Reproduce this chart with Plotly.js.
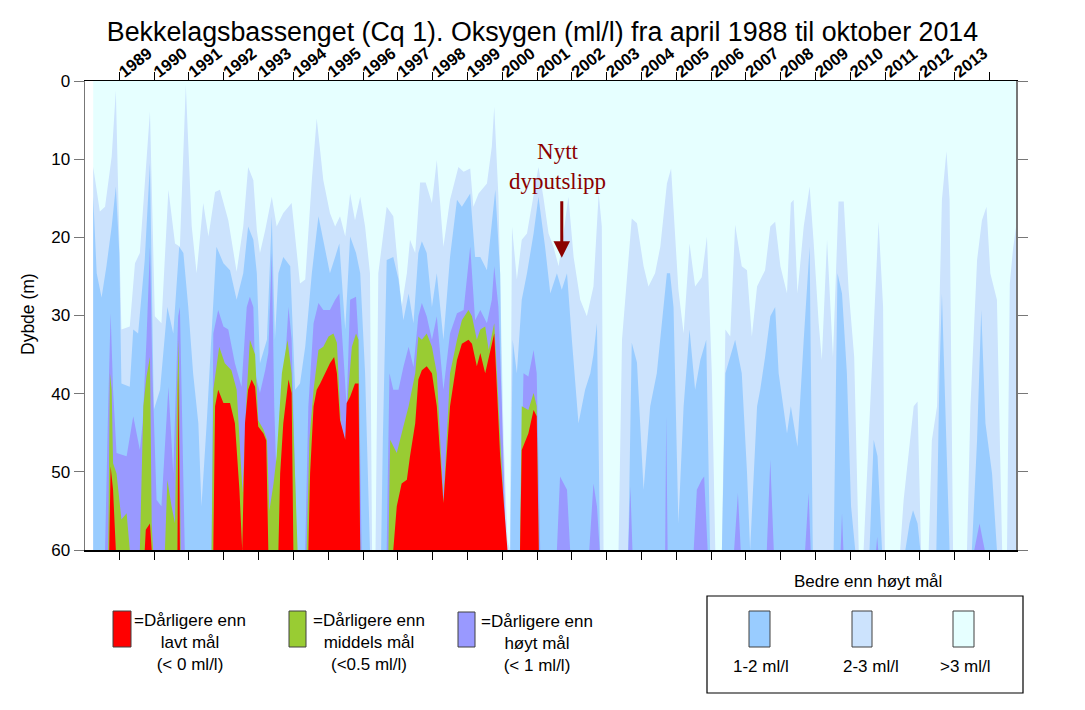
<!DOCTYPE html>
<html><head><meta charset="utf-8">
<script src="https://cdn.plot.ly/plotly-3.0.1.min.js"></script>
<style>html,body{margin:0;padding:0;background:#fff}#chart{width:1085px;height:710px}</style>
</head><body><div id="chart"></div>
<script>
// ---- DATA: boundary depth (m) of each oxygen level over time (decimal year) ----
// depth where O2 drops below 3 ml/l
const time3 = [1988.25,1988.44,1988.59,1988.78,1988.90,1989.06,1989.30,1989.45,1989.59,1989.73,
1989.88,1990.02,1990.21,1990.41,1990.60,1990.74,1990.91,1991.08,1991.22,1991.41,
1991.56,1991.75,1991.89,1992.13,1992.37,1992.56,1992.70,1992.85,1992.95,1993.04,
1993.19,1993.38,1993.52,1993.71,1993.95,1994.19,1994.34,1994.53,1994.67,1994.86,
1995.05,1995.20,1995.34,1995.49,1995.63,1995.77,1995.92,1996.06,1996.20,1996.26,
1996.36,1996.44,1996.68,1996.87,1997.11,1997.26,1997.35,1997.50,1997.64,1997.80,
1997.98,1998.12,1998.31,1998.50,1998.74,1998.89,1999.08,1999.17,1999.32,1999.56,
1999.70,1999.77,1999.89,2000.04,2000.15,2000.22,2000.28,2000.42,2000.56,2000.71,
2000.90,2001.04,2001.18,2001.33,2001.47,2001.62,2001.76,2001.90,2002.05,2002.24,
2002.43,2002.62,2002.77,2002.86,2002.91,2003.34,2003.44,2003.72,2003.87,2004.06,
2004.20,2004.39,2004.54,2004.73,2004.85,2004.92,2005.06,2005.21,2005.38,2005.54,
2005.73,2005.88,2006.02,2006.12,2006.31,2006.41,2006.55,2006.69,2006.88,2007.03,
2007.17,2007.32,2007.45,2007.55,2007.70,2007.84,2007.99,2008.18,2008.29,2008.37,
2008.48,2008.66,2008.83,2008.94,2009.09,2009.18,2009.33,2009.50,2009.66,2009.81,
2009.95,2010.11,2010.24,2010.38,2010.48,2010.67,2010.81,2010.94,2010.99,2011.43,
2011.53,2011.82,2011.93,2012.03,2012.25,2012.34,2012.49,2012.63,2012.76,2012.85,
2012.95,2013.35,2013.45,2013.64,2013.78,2013.91,2014.02,2014.21,2014.36,2014.50,
2014.58,2014.67,2014.76];
const depth3 = [11.0,16.7,16.1,9.7,1.2,31.8,31.4,23.3,22.0,13.1,
3.9,30.1,31.0,13.9,20.8,21.2,0.5,18.6,24.6,15.6,
19.9,14.2,13.9,17.8,24.4,18.6,11.0,12.7,19.1,22.0,
19.1,14.8,18.6,16.9,15.6,25.9,25.4,12.7,4.8,12.7,
16.9,18.6,17.3,19.9,14.4,17.8,14.8,18.6,24.6,60,
60,24.6,16.1,17.3,28.9,24.6,20.3,22.0,13.0,13.0,
15.6,10.1,21.2,15.2,11.0,11.6,11.2,16.1,14.4,13.1,
8.4,3.3,14.8,45.9,58.7,60,18.6,25.4,20.3,19.5,
14.8,11.0,14.8,19.5,21.2,23.7,19.5,14.8,22.5,28.0,
30.1,26.3,14.4,18.6,60,60,33.1,17.6,18.2,23.7,
26.3,24.6,21.2,13.1,11.2,16.1,26.7,32.3,20.8,26.3,
25.1,19.9,37.4,60,60,31.8,32.7,18.4,23.7,24.2,
32.7,26.3,25.0,24.2,18.6,18.0,23.7,27.2,15.6,15.2,
27.2,18.6,13.5,20.3,31.0,35.7,20.3,35.3,15.4,15.4,
26.7,35.3,60,60,50.2,31.0,18.0,28.9,60,60,
53.6,41.6,41.0,60,60,46.0,41.6,15.2,9.0,15.2,
60,60,41.6,22.9,17.8,16.1,24.6,28.0,60,60,
25.9,21.6,18.6];

// depth where O2 drops below 2 ml/l
const time2 = [1988.25,1988.35,1988.49,1988.63,1988.78,1988.90,1989.00,1989.06,1989.30,1989.40,
1989.54,1989.73,1989.88,1989.99,1990.17,1990.38,1990.55,1990.72,1990.84,1990.98,
1991.12,1991.27,1991.36,1991.51,1991.65,1991.79,1991.99,1992.18,1992.37,1992.56,
1992.70,1992.85,1992.95,1993.04,1993.24,1993.38,1993.47,1993.57,1993.71,1993.91,
1994.05,1994.19,1994.34,1994.53,1994.72,1994.86,1995.05,1995.20,1995.32,1995.49,
1995.63,1995.80,1995.92,1996.06,1996.16,1996.20,1996.52,1996.57,1996.68,1996.87,
1997.02,1997.16,1997.31,1997.45,1997.59,1997.69,1997.83,1997.98,1998.12,1998.31,
1998.50,1998.70,1998.84,1999.08,1999.22,1999.37,1999.56,1999.70,1999.80,1999.94,
2000.04,2000.23,2000.30,2000.42,2000.56,2000.71,2000.90,2001.04,2001.23,2001.38,
2001.57,2001.71,2001.86,2002.00,2002.19,2002.38,2002.53,2002.62,2002.72,2002.81,
2003.62,2003.72,2003.87,2004.06,2004.25,2004.44,2004.73,2004.82,2004.92,2005.06,
2005.21,2005.38,2005.54,2005.69,2005.86,2005.97,2006.31,2006.41,2006.69,2006.88,
2007.03,2007.12,2007.17,2007.32,2007.41,2007.55,2007.70,2007.84,2007.94,2008.08,
2008.18,2008.29,2008.48,2008.66,2008.83,2008.92,2009.52,2009.63,2009.76,2009.90,
2010.02,2010.14,2010.55,2010.67,2010.78,2010.91,2011.58,2011.70,2011.80,2011.93,
2012.01,2012.47,2012.56,2012.63,2012.73,2012.85,2013.49,2013.64,2013.76,2013.88,
2014.07,2014.21,2014.76];
const depth2 = [14.8,24.6,27.7,23.7,18.6,13.5,22.0,38.7,39.1,31.8,
32.3,22.9,10.5,42.1,39.5,28.9,32.3,21.2,22.0,28.9,
37.4,43.8,54.4,43.8,32.3,21.2,23.3,24.2,28.0,24.6,
18.6,20.3,24.6,36.1,33.1,17.3,33.1,24.6,22.5,23.7,
39.5,38.7,34.0,24.6,17.3,20.3,24.6,22.5,20.8,31.8,
19.9,22.0,24.6,37.4,54.4,60,60,45.9,22.9,22.5,
25.4,30.6,27.2,31.0,22.0,20.5,22.0,28.9,24.6,33.1,
22.5,15.2,16.1,14.4,22.5,22.5,24.2,18.6,13.9,24.6,
60,60,33.1,37.4,28.0,24.6,19.5,14.8,21.2,27.2,
24.6,26.7,24.6,33.1,43.8,39.5,37.4,35.0,31.0,60,
60,33.5,36.0,52.3,41.6,37.4,24.6,24.6,28.9,56.6,
41.6,31.8,39.5,35.7,33.1,60,60,37.4,33.1,37.4,
50.0,60,55.0,41.6,39.5,35.3,30.1,28.9,37.4,41.6,
45.1,41.6,46.8,33.1,21.2,60,60,24.6,27.2,37.4,
54.4,60,60,45.9,48.0,60,60,56.6,54.9,56.6,
60,60,37.4,27.2,41.6,60,60,45.9,29.3,43.8,
50.2,60,60];

// depth where O2 drops below 1 ml/l
const time1 = [1988.25,1988.59,1988.68,1988.75,1988.82,1988.92,1989.21,1989.40,1989.59,1989.67,
1989.78,1989.88,1989.95,1990.07,1990.21,1990.41,1990.55,1990.69,1990.74,1990.79,
1990.88,1991.65,1991.70,1991.84,1991.99,1992.13,1992.32,1992.51,1992.66,1992.75,
1992.85,1992.90,1993.04,1993.19,1993.28,1993.38,1993.45,1993.52,1993.62,1993.76,
1993.86,1993.95,1994.00,1994.10,1994.34,1994.43,1994.58,1994.72,1994.86,1995.05,
1995.20,1995.32,1995.44,1995.53,1995.63,1995.80,1995.87,1995.96,1996.68,1996.76,
1996.87,1997.02,1997.16,1997.31,1997.45,1997.59,1997.69,1997.83,1997.98,1998.12,
1998.31,1998.50,1998.70,1998.89,1999.08,1999.22,1999.37,1999.56,1999.70,1999.77,
1999.89,1999.99,2000.11,2000.51,2000.61,2000.75,2000.90,2000.99,2001.09,2001.57,
2001.66,2001.86,2001.95,2002.50,2002.62,2002.72,2002.80,2003.62,2003.68,2003.74,
2004.68,2004.71,2004.75,2005.50,2005.59,2005.73,2005.80,2005.90,2006.66,2006.77,
2006.85,2007.60,2007.70,2007.80,2008.70,2008.80,2008.86,2009.72,2009.76,2009.80,
2010.74,2010.77,2010.80,2013.56,2013.71,2013.86,2014.76];
const depth1 = [60,60,41.6,29.7,39.5,47.6,48.0,42.9,47.2,43.8,
33.1,21.2,37.4,53.6,54.4,39.1,50.2,30.1,28.9,41.6,
60,60,32.3,29.3,31.4,31.8,36.1,39.1,28.9,27.6,
28.9,37.4,39.9,37.0,34.8,22.0,41.6,51.5,41.6,36.1,
28.9,33.1,41.6,60,60,41.6,31.0,28.4,29.3,29.3,
28.0,27.2,35.3,41.6,28.0,27.6,33.1,60,60,37.4,
39.5,39.5,36.6,34.0,36.6,30.1,28.4,30.1,33.1,30.1,
39.5,32.3,29.7,29.3,21.2,30.6,29.3,31.0,28.0,23.7,
28.9,41.6,60,60,37.4,37.8,34.4,37.4,60,60,
50.6,52.3,60,60,51.5,54.4,60,60,51.9,60,
60,42.9,60,60,52.3,51.0,50.6,60,60,52.7,
60,60,48.5,60,60,52.7,60,60,55.3,60,
60,58.3,60,60,56.6,60,60];

// depth where O2 drops below 0.5 ml/l
const time05 = [1988.25,1988.68,1988.73,1988.78,1988.82,1988.92,1989.06,1989.21,1989.30,1989.59,
1989.69,1989.78,1989.88,1989.93,1989.97,1990.31,1990.38,1990.50,1990.60,1990.66,
1990.71,1990.76,1991.65,1991.70,1991.87,1992.03,1992.22,1992.37,1992.54,1992.66,
1992.75,1992.90,1992.99,1993.14,1993.24,1993.31,1993.43,1993.52,1993.67,1993.83,
1993.95,1994.05,1994.12,1994.38,1994.46,1994.58,1994.72,1994.86,1995.01,1995.15,
1995.25,1995.36,1995.49,1995.58,1995.68,1995.80,1995.87,1995.92,1996.73,1996.78,
1996.97,1997.16,1997.31,1997.50,1997.59,1997.69,1997.83,1997.98,1998.12,1998.31,
1998.50,1998.70,1998.84,1999.03,1999.13,1999.27,1999.37,1999.51,1999.61,1999.77,
1999.94,2000.11,2000.51,2000.56,2000.75,2000.90,2000.99,2001.05,2014.76];
const depth05 = [60,60,37.4,39.5,48.9,50.2,56.1,55.3,60,60,
41.6,37.8,35.3,56.6,60,60,51.0,54.4,56.6,39.5,
33.1,60,60,39.5,34.0,36.1,37.0,39.5,52.7,39.9,
33.1,35.0,43.4,44.6,45.9,55.0,51.5,48.0,37.4,33.1,
37.4,50.2,60,60,45.9,39.5,34.4,34.0,32.7,32.3,
33.5,43.8,46.3,39.5,34.0,32.3,33.1,60,60,45.9,
47.6,44.2,41.6,37.4,32.7,33.1,32.3,34.0,37.4,54.0,
37.4,33.1,30.6,29.3,30.1,33.1,31.8,31.4,34.4,31.0,
45.9,60,60,41.6,42.1,39.9,41.6,60,60];

// depth where O2 drops below 0 ml/l (H2S)
const time0 = [1988.25,1988.71,1988.75,1988.82,1988.90,1989.73,1989.76,1989.88,1989.93,1990.67,
1990.70,1990.74,1991.70,1991.75,1991.84,1991.99,1992.18,1992.32,1992.45,1992.53,
1992.61,1992.70,1992.80,1992.90,1992.99,1993.14,1993.22,1993.28,1993.57,1993.62,
1993.71,1993.86,1993.95,1994.00,1994.43,1994.48,1994.58,1994.67,1994.77,1994.91,
1995.05,1995.17,1995.25,1995.34,1995.49,1995.53,1995.63,1995.77,1995.87,1995.92,
1996.87,1996.97,1997.11,1997.26,1997.35,1997.50,1997.59,1997.69,1997.83,1997.98,
1998.12,1998.31,1998.50,1998.70,1998.84,1999.03,1999.13,1999.27,1999.37,1999.51,
1999.61,1999.77,1999.94,2000.08,2000.15,2000.51,2000.56,2000.75,2000.90,2000.99,
2001.05,2014.76];
const depth0 = [60,60,49.3,52.3,60,60,57.4,56.6,60,60,
37.4,60,60,41.6,39.5,41.2,41.2,43.8,52.3,60,
43.8,39.5,38.2,39.1,44.2,45.1,46.0,60,60,50.2,
43.8,38.2,39.9,60,60,50.2,41.6,39.5,38.7,37.4,
36.1,35.3,37.4,43.4,45.9,41.2,40.4,38.7,38.7,60,
60,54.4,51.5,51.0,48.0,43.8,38.2,37.0,36.5,37.4,
41.6,54.0,41.6,35.7,33.6,33.1,33.6,36.5,34.8,37.4,
35.3,32.3,48.0,56.6,60,60,47.2,45.1,42.1,42.9,
60,60];

const yearTicks = [1989,1990,1991,1992,1993,1994,1995,1996,1997,1998,1999,2000,2001,
2002,2003,2004,2005,2006,2007,2008,2009,2010,2011,2012,2013,2014];
const yearLabels = ['1989','1990','1991','1992','1993','1994','1995','1996','1997','1998','1999','2000','2001',
'2002','2003','2004','2005','2006','2007','2008','2009','2010','2011','2012','2013',''];
const depthTicks = [0,10,20,30,40,50,60];

// ---- STYLE ----
const C = {red:'#ff0000', green:'#99cc33', purple:'#9999ff', blue:'#99ccff', light:'#cce3fd', cyan:'#e6ffff'};
const TOP = depthTicks[0], BOTTOM = depthTicks[depthTicks.length-1];
const tStart = time3[0], tEnd = time3[time3.length-1];

function band(t, d, color){
  return {type:'scatter', mode:'lines', x:t.concat([t[t.length-1], t[0]]), y:d.concat([BOTTOM, BOTTOM]),
    fill:'toself', fillcolor:color, line:{width:0, color:color}, hoverinfo:'skip', showlegend:false};
}
const traces = [
  {type:'scatter', mode:'lines', x:[tStart,tEnd,tEnd,tStart], y:[TOP,TOP,BOTTOM,BOTTOM], fill:'toself',
   fillcolor:C.cyan, line:{width:0,color:C.cyan}, hoverinfo:'skip', showlegend:false},
  band(time3, depth3, C.light),
  band(time2, depth2, C.blue),
  band(time1, depth1, C.purple),
  band(time05, depth05, C.green),
  band(time0, depth0, C.red)
];

// pixel helpers for paper coords
const ML=85, MT=81, PW=931, PH=469;
const px = X => (X-ML)/PW, py = Y => (MT+PH-Y)/PH;
const FONT = 'Liberation Sans, Arial, sans-serif';

const shapes = [];
const annotations = [];
function swatch(x0,x1,y0,y1,color){
  shapes.push({type:'rect', xref:'paper', yref:'paper', x0:px(x0), x1:px(x1), y0:py(y1), y1:py(y0),
    fillcolor:color, line:{color:'#404040', width:1}});
}
function txt(X,Y,text,size,extra){
  annotations.push(Object.assign({xref:'paper', yref:'paper', x:px(X), y:py(Y), text:text, showarrow:false,
    xanchor:'center', yanchor:'middle', font:{family:FONT, size:size, color:'#000'}}, extra||{}));
}
swatch(113,131,611,647,C.red);
swatch(289,306,611,647,C.green);
swatch(458,475,612,647,C.purple);
txt(190,642,'=Dårligere enn<br>lavt mål<br>(&lt; 0 ml/l)',17);
txt(369,642,'=Dårligere enn<br>middels mål<br>(&lt;0.5 ml/l)',17);
txt(537,643,'=Dårligere enn<br>høyt mål<br>(&lt; 1 ml/l)',17);
shapes.push({type:'rect', xref:'paper', yref:'paper', x0:px(707), x1:px(1023), y0:py(693), y1:py(596),
  line:{color:'#000', width:1.2}, fillcolor:'rgba(0,0,0,0)'});
txt(868,581,'Bedre enn høyt mål',17);
swatch(749,770,611,647,C.blue);
swatch(852,872,611,647,C.light);
swatch(953,974,611,647,C.cyan);
txt(761,666,'1-2 ml/l',17);
txt(871,666,'2-3 ml/l',17);
txt(965,666,'&gt;3 ml/l',17);
txt(28,314,'Dybde (m)',17.5,{textangle:-90});
// "Nytt dyputslipp" note with arrow
annotations.push({xref:'x', yref:'y', x:2001.60, y:11.0, text:'Nytt<br>dyputslipp', showarrow:false,
  font:{family:'Liberation Serif, Times New Roman, serif', size:23, color:'#8b0000'}, xanchor:'center', yanchor:'middle'});
annotations.push({xref:'x', yref:'y', x:2001.71, y:22.6, ax:0, ay:-58, axref:'pixel', ayref:'pixel', text:'',
  showarrow:true, arrowhead:2, arrowsize:1.1, arrowwidth:3, arrowcolor:'#8b0000'});

const layout = {
  width:1085, height:710,
  margin:{l:ML, r:69, t:MT, b:160, pad:0},
  paper_bgcolor:'#ffffff', plot_bgcolor:'#ffffff',
  font:{family:FONT, color:'#000'},
  title:{text:'Bekkelagsbassenget (Cq 1). Oksygen (ml/l) fra april 1988 til oktober 2014',
    font:{family:FONT, size:26.8, color:'#000'}, x:0.5, xref:'container', xanchor:'center',
    y:1-32/710, yref:'container', yanchor:'middle'},
  xaxis:{range:[1988.014, 2014.758], side:'top', tickmode:'array', tickvals:yearTicks, ticktext:yearLabels,
    tickangle:-38, ticks:'outside', ticklen:8, tickcolor:'#000', showline:true, linecolor:'#000', linewidth:1.5,
    ticklabelstandoff:-15,
    mirror:'ticks', showgrid:false, zeroline:false, tickfont:{family:FONT, size:16.5, color:'#000', weight:'bold'}, fixedrange:true},
  yaxis:{range:[BOTTOM, TOP], tickmode:'array', tickvals:depthTicks, ticks:'outside', ticklen:10, tickcolor:'#777',
    showline:true, linecolor:'#777', linewidth:1.5, mirror:'ticks', showgrid:false, zeroline:false,
    tickfont:{family:FONT, size:17, color:'#000'}, fixedrange:true},
  shapes:shapes, annotations:annotations, showlegend:false
};
Plotly.newPlot('chart', traces, layout, {staticPlot:true, displayModeBar:false});
</script>
</body></html>
